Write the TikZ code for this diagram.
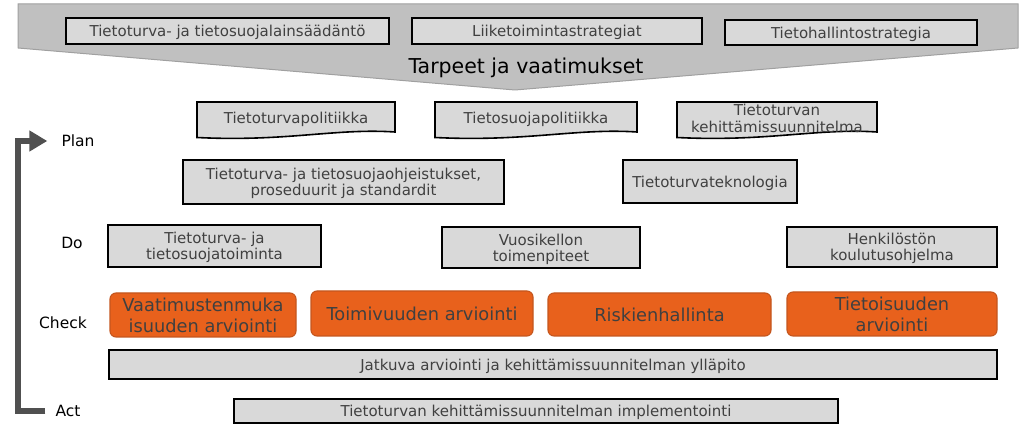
\documentclass[tikz,border=0pt]{standalone}
\usepackage{fontspec}
\setmainfont{DejaVu Sans}
\usetikzlibrary{arrows.meta}
\definecolor{boxgray}{HTML}{D9D9D9}
\definecolor{txtgray}{HTML}{404040}
\definecolor{bannerfill}{HTML}{C0C0C0}
\definecolor{bannerline}{HTML}{A0A0A0}
\definecolor{chkfill}{HTML}{E8611C}
\definecolor{chkline}{HTML}{C4561E}
\definecolor{cyclegray}{HTML}{505050}
\begin{document}
\begin{tikzpicture}[x=1pt,y=-1pt,line join=miter,
  box/.style={draw=black,line width=1.6pt,fill=boxgray,text=txtgray,
    font=\fontsize{15}{16}\selectfont,align=center,inner sep=0pt,text depth=0pt},
  docfill/.style={draw=black,line width=1.6pt,fill=boxgray},
  doctext/.style={text=txtgray,font=\fontsize{15}{17}\selectfont,align=center,inner sep=0pt,text depth=0pt},
  chkbox/.style={draw=chkline,line width=1.1pt,fill=chkfill,rounded corners=6pt,
    text=txtgray,font=\fontsize{17.8}{21}\selectfont,align=center,inner sep=0pt},
  phase/.style={text=black,font=\fontsize{15.5}{17}\selectfont,inner sep=0pt}]
  \useasboundingbox (0,0) rectangle (1023,435);
  \filldraw[fill=bannerfill,draw=bannerline,line width=1pt] (18,4) -- (1018,4) -- (1018,48) -- (515,90) -- (18,48) -- cycle;
  \node[box,minimum width=323pt,minimum height=26pt] (lain) at (227.5,31) {Tietoturva- ja tietosuojalainsäädäntö};
  \node[box,minimum width=290pt,minimum height=26pt] (liike) at (557,31) {Liiketoimintastrategiat};
  \node[box,minimum width=252pt,minimum height=25pt] (hallinto) at (851,32.5) {Tietohallintostrategia};
  \node[text=black,font=\fontsize{20.5}{22}\selectfont,inner sep=0pt] (tarpeet) at (526,67.5) {Tarpeet ja vaatimukset};
  \foreach \xa/\xb/\nm/\txt in {197/395/pol1/{Tietoturvapolitiikka},435/637/pol2/{Tietosuojapolitiikka},677/877/kehsuun/{Tietoturvan\\kehittämissuunnitelma}}{
    \filldraw[docfill] (\xa,102) -- (\xb,102) -- (\xb,132) .. controls ({\xb-0.3*(\xb-\xa)},128) and ({\xa+0.45*(\xb-\xa)},142) .. (\xa,137.5) -- cycle;
    \node[doctext] (\nm) at ({(\xa+\xb)/2},118) {\txt};
  }
  \node[box,minimum width=321pt,minimum height=44pt] (ohjeet) at (343.5,182) {Tietoturva- ja tietosuojaohjeistukset,\\proseduurit ja standardit};
  \node[box,minimum width=174pt,minimum height=43pt] (tekno) at (710,181.5) {Tietoturvateknologia};
  \node[box,minimum width=213pt,minimum height=42pt] (toiminta) at (214.5,246) {Tietoturva- ja\\tietosuojatoiminta};
  \node[box,minimum width=198pt,minimum height=41pt] (vuosikello) at (541,247.5) {Vuosikellon\\toimenpiteet};
  \node[box,minimum width=210pt,minimum height=40pt] (koulutus) at (892,247) {Henkilöstön\\koulutusohjelma};
  \node[chkbox,minimum width=186pt,minimum height=44pt] (vaatim) at (203,315) {Vaatimustenmuka\\isuuden arviointi};
  \node[chkbox,minimum width=222pt,minimum height=45pt] (toimiv) at (422,313.5) {Toimivuuden arviointi};
  \node[chkbox,minimum width=223pt,minimum height=43pt] (riski) at (659.5,314.5) {Riskienhallinta};
  \node[chkbox,minimum width=210pt,minimum height=44pt] (tietoisuus) at (892,314) {Tietoisuuden\\arviointi};
  \node[box,minimum width=888pt,minimum height=29pt] (jatkuva) at (553,364.5) {Jatkuva arviointi ja kehittämissuunnitelman ylläpito};
  \node[box,minimum width=604pt,minimum height=24pt] (implem) at (536,411) {Tietoturvan kehittämissuunnitelman implementointi};
  \node[phase] (plan) at (78,141) {Plan};
  \node[phase] (do) at (72,243) {Do};
  \node[phase] (check) at (63,323) {Check};
  \node[phase] (act) at (68,411) {Act};
  \draw[cyclegray,line width=6pt,-{Triangle[length=18pt,width=20pt]}] ([xshift=-10pt]act.west) -| ([xshift=-43.5pt]plan.west) -- ([xshift=-14pt]plan.west);
\end{tikzpicture}
\end{document}
